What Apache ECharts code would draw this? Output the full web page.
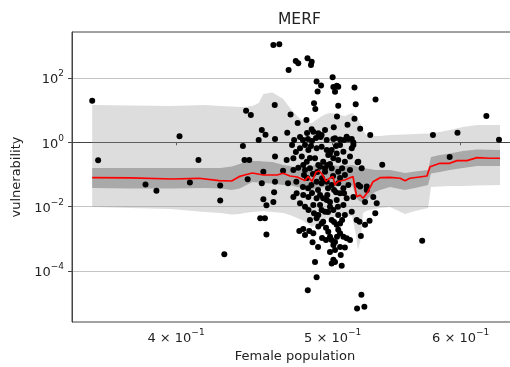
<!DOCTYPE html>
<html>
<head>
<meta charset="utf-8">
<script src="https://cdn.jsdelivr.net/npm/echarts@6/dist/echarts.min.js"></script>
<style>
  html, body { margin: 0; padding: 0; background: #fff; }
  #chart { width: 510px; height: 367px; }
</style>
</head>
<body>
<div id="chart"></div>
<script>
// Observed female population share and model vulnerability per unit
const femalePop = [
  0.355, 0.358, 0.383, 0.389, 0.402, 0.408, 0.413, 0.426, 0.426, 0.4285,
  0.440, 0.441, 0.444, 0.442, 0.445, 0.443, 0.450, 0.452, 0.4544, 0.452,
  0.453, 0.455, 0.451, 0.454, 0.455, 0.460, 0.4604, 0.4606, 0.4606, 0.4606,
  0.4595, 0.4595, 0.4634, 0.4696, 0.4744, 0.4761, 0.4824, 0.4853, 0.4848, 0.4887,
  0.4918, 0.4894, 0.4869, 0.4878, 0.4709, 0.4757, 0.4817, 0.4687, 0.4773, 0.4864,
  0.4899, 0.4922, 0.4883, 0.4853, 0.500, 0.5005, 0.503, 0.504, 0.5017, 0.5158,
  0.5315, 0.504, 0.5167, 0.5031, 0.5158, 0.5107, 0.5008, 0.520, 0.5275, 0.5005,
  0.5053, 0.5113, 0.515, 0.4915, 0.5768, 0.5973, 0.6224, 0.6337, 0.5907, 0.568,
  0.5366, 0.5181, 0.4683, 0.4728, 0.4785, 0.4819, 0.4876, 0.4899, 0.4933, 0.4773,
  0.4807, 0.483, 0.4887, 0.4922, 0.4958, 0.4981, 0.4793, 0.4827, 0.4855, 0.4958,
  0.4659, 0.4728, 0.4761, 0.4807, 0.4841, 0.4911, 0.4946, 0.4692, 0.4748, 0.4851,
  0.4887, 0.4922, 0.4728, 0.4750, 0.4795, 0.483, 0.4855, 0.4887, 0.4773, 0.4807,
  0.4958, 0.4922, 0.4899, 0.453, 0.5017, 0.5101, 0.5138, 0.4993, 0.5029, 0.5077,
  0.5138, 0.515, 0.5186, 0.5211, 0.4969, 0.5005, 0.504, 0.5088, 0.5125, 0.4946,
  0.4993, 0.504, 0.5088, 0.5125, 0.4958, 0.4993, 0.504, 0.5077, 0.5113, 0.5186,
  0.5249, 0.5298, 0.4933, 0.4981, 0.5029, 0.5077, 0.5101, 0.515, 0.4946, 0.5005,
  0.504, 0.5088, 0.5138, 0.5174, 0.5236, 0.5324, 0.4933, 0.4993, 0.5053, 0.520,
  0.5249, 0.4768, 0.4795, 0.4807, 0.4836, 0.4864, 0.4859, 0.4887, 0.4899, 0.4922,
  0.4969, 0.4981, 0.4993, 0.5005, 0.5017, 0.5029, 0.504, 0.5053, 0.5077, 0.5101,
  0.5125, 0.5088, 0.5058, 0.5005, 0.4993, 0.5017, 0.5065, 0.4876, 0.4887, 0.4826,
  0.5195, 0.5236, 0.527, 0.5313, 0.5205, 0.5209, 0.5177, 0.5231, 0.4793, 0.4821,
  0.4862, 0.4897, 0.4925, 0.4967, 0.5003, 0.5024, 0.5053, 0.5082, 0.4831, 0.4864,
  0.4841, 0.4911, 0.4967, 0.5010, 0.4953, 0.4925, 0.5017, 0.5053, 0.4981, 0.4962,
  0.4892, 0.4981, 0.5053, 0.4719, 0.4745, 0.4795, 0.4841, 0.4962, 0.5068, 0.5053,
  0.5010, 0.4911, 0.4828, 0.4869, 0.4981, 0.5038, 0.5068, 0.4953, 0.4897, 0.5031,
  0.4800, 0.5024, 0.5082, 0.4848, 0.4821, 0.4946, 0.4733
];
const vulnerability = [
  19.5, 0.275, 0.049, 0.031, 1.54, 0.056, 0.28, 0.045, 0.0155, 0.00033,
  0.77, 0.28, 0.28, 9.6, 7.0, 0.071, 1.18, 2.41, 1.71, 0.053,
  0.017, 0.011, 0.0043, 0.0043, 0.00136, 0.028, 14.5, 1.27, 0.36, 0.059,
  0.014, 1060, 1120, 177, 338, 288, 410, 321, 254, 78,
  58, 38, 16.3, 10.9, 7.3, 4.0, 4.9, 1.99, 1.46, 2.14,
  1.91, 1.69, 1.36, 2.54, 105, 52.5, 57.6, 53.6, 37.5, 50.7,
  21.4, 13.7, 15.2, 6.3, 5.4, 3.5, 2.93, 2.63, 1.69, 1.27,
  1.22, 1.27, 0.99, 1.46, 1.69, 1.99, 6.6, 1.2, 0.35, 0.00087,
  0.20, 0.24, 0.28, 0.32, 0.36, 0.25, 0.32, 0.197, 0.25, 0.65,
  0.82, 0.58, 0.65, 0.73, 0.58, 0.45, 1.18, 1.27, 1.10, 1.18,
  0.131, 0.137, 0.162, 0.137, 0.155, 0.174, 0.155, 0.053, 0.059, 0.047,
  0.059, 0.053, 0.020, 0.026, 0.023, 0.020, 0.0265, 0.018, 0.0127, 0.0099,
  0.016, 0.0078, 0.0055, 0.122, 1.33, 1.49, 1.27, 0.58, 0.45, 0.51,
  0.65, 0.82, 0.25, 0.155, 0.40, 0.32, 0.28, 0.25, 0.36, 0.122,
  0.155, 0.122, 0.096, 0.137, 0.059, 0.047, 0.053, 0.037, 0.047, 0.047,
  0.033, 0.020, 0.018, 0.014, 0.016, 0.0112, 0.018, 0.020, 0.0069, 0.0078,
  0.0055, 0.0055, 0.0069, 0.0038, 0.014, 0.0127, 0.0034, 0.0038, 0.0030, 0.042,
  0.042, 0.00174, 0.0020, 0.00131, 0.00174, 0.00148, 0.00078, 0.0043, 0.0024, 0.0030,
  0.00166, 0.00116, 0.00091, 0.00064, 0.00045, 0.0027, 0.0019, 0.00148, 0.00116, 0.00103,
  0.00091, 0.00053, 0.00031, 0.00022, 0.00017, 0.00019, 0.000145, 0.00019, 0.000063, 0.000025,
  0.0034, 0.0027, 0.0036, 0.0062, 0.00122, 0.000018, 0.0000067, 0.0000077, 0.041, 0.078,
  0.103, 0.033, 0.076, 0.037, 0.089, 0.028, 0.078, 0.026, 0.0078, 0.0112,
  0.0038, 0.0112, 0.0068, 0.0033, 0.0022, 0.00105, 0.00079, 0.00055, 0.00039, 0.023,
  0.119, 0.21, 0.82, 0.82, 0.50, 0.197, 0.325, 0.197, 0.155, 0.026,
  0.033, 0.023, 0.037, 0.0062, 0.0099, 0.0099, 0.0038, 0.00091, 0.00055, 0.00116,
  0.096, 0.77, 1.18, 0.77, 1.95, 2.41, 1.18
];

// Prediction bands along female population
const bandX = [
  0.355, 0.375, 0.397, 0.417, 0.426, 0.433, 0.438, 0.441, 0.446, 0.450,
  0.453, 0.459, 0.466, 0.4705, 0.4753, 0.4786, 0.4828, 0.4855, 0.4883, 0.4904,
  0.4925, 0.4953, 0.4981, 0.5017, 0.5053, 0.5088, 0.5140, 0.5169, 0.5184, 0.5206,
  0.5221, 0.5244, 0.5274, 0.5311, 0.5349, 0.5426, 0.5543, 0.5622, 0.5728, 0.5752,
  0.5826, 0.5908, 0.6020, 0.6142, 0.6346
];
const outerHigh = [
  14.5, 14.0, 13.5, 14.5, 13.5, 13.0, 12.5, 12.5, 13.5, 16.7,
  31.8, 35.4, 22.2, 11.7, 6.58, 4.94, 3.98, 3.98, 4.94, 5.70,
  6.58, 7.59, 8.15, 7.87, 7.06, 6.58, 8.15, 6.58, 5.31, 3.45,
  2.41, 1.69, 1.63, 1.57, 1.57, 1.69, 1.75, 1.81, 1.88, 1.95,
  2.09, 2.41, 2.99, 3.45, 3.45
];
const outerLow = [
  0.00972, 0.00904, 0.00842, 0.00679, 0.00632, 0.00568, 0.00589, 0.00632, 0.00679, 0.00703,
  0.00729, 0.00679, 0.00632, 0.00548, 0.00442, 0.00383, 0.00288, 0.00232, 0.00288, 0.00332,
  0.00356, 0.00411, 0.00442, 0.00475, 0.00510, 0.00510, 0.00510, 0.00131, 0.000447, 0.00105,
  0.00632, 0.00729, 0.00783, 0.00842, 0.00904, 0.00972, 0.00589, 0.00729, 0.00904, 0.0407,
  0.0422, 0.0437, 0.0437, 0.0453, 0.0470
];
const innerHigh = [
  0.159, 0.159, 0.159, 0.159, 0.159, 0.177, 0.211, 0.244, 0.262, 0.262,
  0.253, 0.244, 0.197, 0.183, 0.164, 0.159, 0.171, 0.177, 0.211, 0.227,
  0.219, 0.204, 0.197, 0.190, 0.183, 0.183, 0.197, 0.183, 0.171, 0.164,
  0.159, 0.153, 0.148, 0.138, 0.138, 0.138, 0.111, 0.124, 0.138, 0.349,
  0.403, 0.448, 0.536, 0.597, 0.576
];
const innerLow = [
  0.0379, 0.0366, 0.0366, 0.0379, 0.0366, 0.0328, 0.0366, 0.0437, 0.0582, 0.0562,
  0.0542, 0.0523, 0.0470, 0.0470, 0.0407, 0.0379, 0.0328, 0.0328, 0.0366, 0.0379,
  0.0393, 0.0407, 0.0407, 0.0422, 0.0437, 0.0437, 0.0470, 0.0214, 0.0160, 0.0139,
  0.0129, 0.0149, 0.0214, 0.0285, 0.0328, 0.0407, 0.0328, 0.0379, 0.0470, 0.107,
  0.119, 0.138, 0.159, 0.183, 0.183
];

// Median curve
const medianX = [
  0.355, 0.375, 0.3977, 0.4133, 0.4253, 0.433, 0.4376, 0.441, 0.446, 0.453,
  0.4619, 0.466, 0.4705, 0.4753, 0.4807, 0.4828, 0.4855, 0.4883, 0.4904, 0.4925,
  0.4953, 0.4981, 0.5002, 0.5017, 0.5038, 0.5088, 0.5147, 0.5174, 0.5199, 0.5221,
  0.5258, 0.5296, 0.5349, 0.5426, 0.5504, 0.5543, 0.5582, 0.5719, 0.5744, 0.5826,
  0.5908, 0.5969, 0.6054, 0.6142, 0.6256, 0.6346
];
const medianY = [
  0.0792, 0.0776, 0.0722, 0.0759, 0.0639, 0.0625, 0.0851, 0.0961, 0.111, 0.0961,
  0.0961, 0.109, 0.0895, 0.0833, 0.0648, 0.0863, 0.0604, 0.119, 0.128, 0.103,
  0.0604, 0.0776, 0.0863, 0.0470, 0.0604, 0.0672, 0.0863, 0.0203, 0.0230, 0.0181,
  0.0291, 0.0595, 0.0792, 0.0815, 0.0759, 0.0639, 0.0759, 0.0895, 0.174, 0.222,
  0.222, 0.268, 0.268, 0.332, 0.318, 0.318
];

// Tick positions
const xTicks = [0.4, 0.5, 0.6];
const yTicks = [1e-4, 1e-2, 1, 1e2];

const lg = Math.log10;
const FONT = '"DejaVu Sans", sans-serif';
const TXT = '#222';

const chart = echarts.init(document.getElementById('chart'), null, { renderer: 'canvas' });

function bandSeries(lo, hi, color, z) {
  return {
    type: 'custom',
    z: z,
    silent: true,
    clip: true,
    data: bandX.map((x, i) => [lg(x), lg(lo[i]), lg(hi[i])]),
    encode: { x: 0, y: [1, 2] },
    renderItem: function (params, api) {
      if (params.dataIndex !== 0) return null;
      const pts = [];
      for (let i = 0; i < bandX.length; i++) pts.push(api.coord([lg(bandX[i]), lg(hi[i])]));
      for (let i = bandX.length - 1; i >= 0; i--) pts.push(api.coord([lg(bandX[i]), lg(lo[i])]));
      return { type: 'polygon', shape: { points: pts }, style: { fill: color } };
    }
  };
}

const supMinus = (p) => (p < 0 ? '\u2212' + (-p) : String(p));

chart.setOption({
  animation: false,
  backgroundColor: '#fff',
  title: {
    text: 'MERF',
    left: 273, top: 7,
    textStyle: { fontFamily: FONT, fontSize: 15.5, fontWeight: 'normal', color: TXT }
  },
  grid: {
    left: 72, top: 32, width: 446, height: 290,
    show: true, borderColor: '#444', borderWidth: 1, backgroundColor: '#fff',
    outerBoundsMode: 'none'
  },
  xAxis: {
    type: 'value',
    min: -0.46228, max: -0.18636,
    name: 'Female population',
    nameLocation: 'middle',
    nameGap: 24,
    nameTextStyle: { fontFamily: FONT, fontSize: 13, color: TXT },
    axisLine: { show: true, lineStyle: { color: '#444', width: 1 } },
    axisTick: { show: true, length: 3, lineStyle: { color: '#444' }, customValues: xTicks.map(lg) },
    splitLine: { show: false },
    axisLabel: {
      customValues: xTicks.map(lg),
      margin: 6,
      formatter: function (v) {
        const m = Math.round(Math.pow(10, v) * 10);
        return '{b|' + m + ' \u00d7 10}{s|\u22121}';
      },
      rich: {
        b: { fontFamily: FONT, fontSize: 13, color: TXT, padding: [4, 0, 0, 0] },
        s: { fontFamily: FONT, fontSize: 9, color: TXT, verticalAlign: 'top' }
      }
    }
  },
  yAxis: {
    type: 'value',
    min: -5.59, max: 3.43,
    name: 'vulnerability',
    nameLocation: 'middle',
    nameGap: 46,
    nameTextStyle: { fontFamily: FONT, fontSize: 13, color: TXT },
    axisLine: { show: true, lineStyle: { color: '#444', width: 1 } },
    axisTick: { show: true, length: 4, lineStyle: { color: '#444' }, customValues: yTicks.map(lg) },
    splitLine: { show: true, lineStyle: { color: '#c4c4c4', width: 1.2 } },
    axisLabel: {
      customValues: yTicks.map(lg),
      margin: 8,
      formatter: function (v) {
        return '{b|10}{s|' + supMinus(Math.round(v)) + '}';
      },
      rich: {
        b: { fontFamily: FONT, fontSize: 13, color: TXT, padding: [4, 0, 0, 0] },
        s: { fontFamily: FONT, fontSize: 9, color: TXT, verticalAlign: 'top' }
      }
    }
  },
  series: [
    bandSeries(outerLow, outerHigh, 'rgba(150,150,150,0.32)', 1),
    bandSeries(innerLow, innerHigh, '#a9a9a9', 2),
    {
      type: 'scatter',
      z: 3,
      symbol: 'circle',
      symbolSize: 6,
      itemStyle: { color: '#000', opacity: 1 },
      data: femalePop.map((x, i) => [lg(x), lg(vulnerability[i])])
    },
    {
      type: 'line',
      z: 4,
      showSymbol: false,
      lineStyle: { color: '#ff0000', width: 1.7 },
      data: medianX.map((x, i) => [lg(x), lg(medianY[i])])
    }
  ]
});
</script>
</body>
</html>
